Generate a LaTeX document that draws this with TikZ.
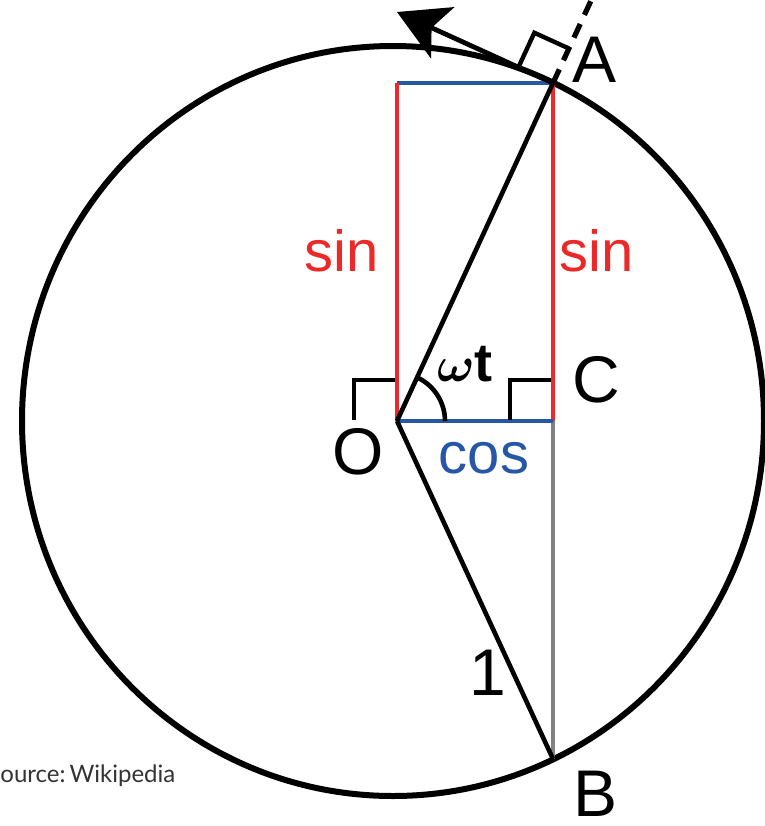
\documentclass[tikz,border=0pt]{standalone}
\usepackage{amsmath}
\usepackage{fontspec}
\setmainfont{Liberation Sans}
\newfontfamily\srcfont{Lato}
\usepackage{tikz}
\usetikzlibrary{arrows.meta,calc}
\definecolor{sinred}{RGB}{236,40,41}
\definecolor{cosblue}{RGB}{38,86,166}
\definecolor{chordgray}{RGB}{130,130,130}

\begin{document}
\begin{tikzpicture}[
    x=0.5pt, y=-0.5pt,
    font=\fontsize{33}{36}\selectfont,
    unitcircle/.style={line width=3pt},
    radius line/.style={line width=2.3pt},
    sinline/.style={draw=sinred, line width=2.3pt},
    cosline/.style={draw=cosblue, line width=2.3pt},
    grayline/.style={draw=chordgray, line width=2.3pt},
    rtangle/.style={line width=2.2pt},
    lbl/.style={inner sep=0pt},
    arrow/.style={-{Stealth[length=25pt, width=28pt, inset=6pt]}, line width=2.4pt}
]
\useasboundingbox (0,0) rectangle (765,826);

\coordinate (M) at (393,421);
\coordinate (O) at (397,421);
\coordinate (A) at (553,83);
\coordinate (B) at (553,759);
\coordinate (C) at (553,421);
\coordinate (T) at (397,83);
\coordinate (tip) at (397,12);
\coordinate (far) at ($(O)!1.3!(A)$);

\draw[unitcircle] (M) ellipse [x radius=371, y radius=375];

\draw[cosline] (T) -- (A);
\draw[sinline] (T) -- (O);
\draw[sinline] (A) -- (C);
\draw[grayline] (C) -- (B);
\draw[cosline] (O) -- (C);
\draw[radius line] (O) -- (A);
\draw[radius line] (O) -- (B);
\draw[radius line, line width=2.6pt, dash pattern=on 7.5pt off 5pt] (A) -- (far);
\draw[arrow] (A) -- (tip);

\coordinate (a1) at ($(A)!19pt!(tip)$);
\coordinate (a2) at ($(A)!19pt!(far)$);
\draw[rtangle] (a1) -- ($(a1)+(a2)-(A)$) -- (a2);
\foreach \p in {O,C}
  \draw[rtangle] (\p) ++(-2,-41) -- ++(-41,0) -- ++(0,40);
\draw[radius line] ([xshift=24pt]O) arc[start angle=0, end angle=65.2, radius=24pt];

\node[lbl, text=sinred, font=\fontsize{29}{32}\selectfont] (sinL) at (342,251) {sin};
\node[lbl, text=sinred, font=\fontsize{29}{32}\selectfont] (sinR) at (597,251) {sin};
\node[lbl, text=cosblue, font=\fontsize{29}{32}\selectfont] (cos) at (484,458) {cos};
\node[lbl, font=\fontsize{27}{30}\selectfont] (wt) at (465,364) {$\boldsymbol{\omega}$\textbf{t}};
\node[lbl] (labA) at (595,60) {A};
\node[lbl] (labB) at (596,794) {B};
\node[lbl] (labC) at (596,380) {C};
\node[lbl] (labO) at (358,452) {O};
\node[lbl] (labR) at (488,673) {1};
\node[lbl, anchor=west, text=black!80, font=\srcfont\fontsize{12}{14}\selectfont] (src) at (0,776) {ource:\,Wikipedia};
\end{tikzpicture}
\end{document}
